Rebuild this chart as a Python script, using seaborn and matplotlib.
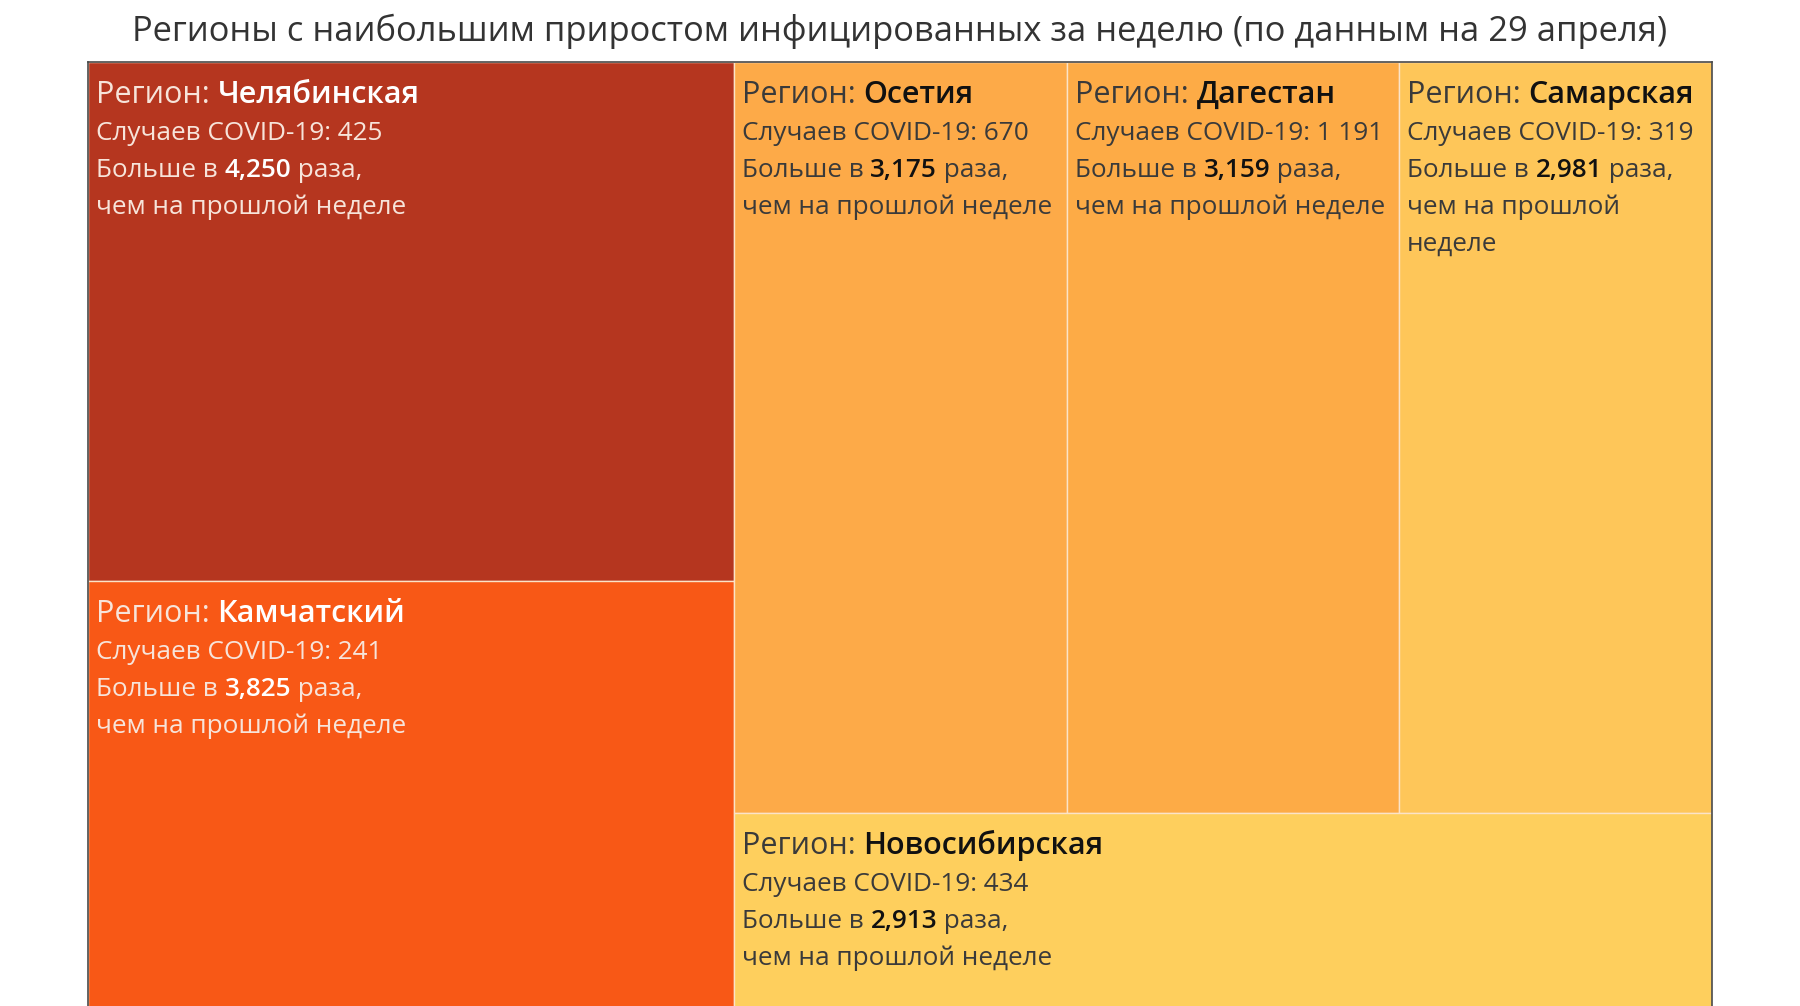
import numpy as np
import pandas as pd
import matplotlib.pyplot as plt
import seaborn as sns
from matplotlib.patches import Rectangle

# Regions with the biggest week-over-week growth (29 April)
regions = ['Челябинская', 'Камчатский', 'Осетия', 'Дагестан', 'Самарская', 'Новосибирская']
cases = ['425', '241', '670', '1 191', '319', '434']
growth = [4.250, 3.825, 3.175, 3.159, 2.981, 2.913]
growth_labels = ['4,250', '3,825', '3,175', '3,159', '2,981', '2,913']

colors = ['#B5361F', '#F85816', '#FDAA48', '#FDAB46', '#FEC659', '#FECF5D']
light_text = [True, True, False, False, False, False]

title = 'Регионы с наибольшим приростом инфицированных за неделю (по данным на 29 апреля)'

sns.set_theme(style='white')
plt.rcParams['font.family'] = ['Open Sans', 'DejaVu Sans']

W, H, DPI = 1800, 1006, 100
fig = plt.figure(figsize=(W / DPI, H / DPI), dpi=DPI)

# treemap area in pixels (the view cuts it off at the bottom)
left_px, right_px, top_px = 88, 1712, 62
full_h_px = 986
ax = fig.add_axes([left_px / W, 0, (right_px - left_px) / W, (H - top_px) / H])
ax.set_xlim(0, 1)
ax.set_ylim((H - top_px) / full_h_px, 0)
ax.set_xticks([])
ax.set_yticks([])
for s in ['top', 'left', 'right']:
    ax.spines[s].set_color('#4a4a4a')
    ax.spines[s].set_linewidth(1.2)
ax.spines['bottom'].set_visible(False)


def slice_rects(vals, x, y, w, h, horizontal):
    out = []
    tot = sum(vals)
    pos = 0.0
    for v in vals:
        f = v / tot
        if horizontal:
            out.append((x + pos * w, y, f * w, h))
        else:
            out.append((x, y + pos * h, w, f * h))
        pos += f
    return out


# slice-and-dice layout: left column of two, right part = row of three over one
total = sum(growth)
left_w = sum(growth[:2]) / total
top_h = sum(growth[2:5]) / sum(growth[2:])
rects = slice_rects(growth[:2], 0, 0, left_w, 1, False)
rects += slice_rects(growth[2:5], left_w, 0, 1 - left_w, top_h, True)
rects += [(left_w, top_h, 1 - left_w, 1 - top_h)]

for (x, y, w, h), c in zip(rects, colors):
    ax.add_patch(Rectangle((x, y), w, h, facecolor=c, edgecolor='#FBE3C8', linewidth=1.0))

fig.text(0.5, 1 - 31 / H, title, ha='center', va='center', fontsize=24.8, color='#333333')

renderer = fig.canvas.get_renderer()
pad_x = 8
first_base = 41
line_step = 37
big, small = 22, 18.8

for i, (x, y, w, h) in enumerate(rects):
    if light_text[i]:
        col, bcol = '#F7E4DA', '#FFFFFF'
    else:
        col, bcol = '#3a3a3a', '#111111'
    cell_px = w * (right_px - left_px) - pad_x - 4

    lines = [
        [('Регион: ', 'normal'), (regions[i], 'semibold')],
        [('Случаев COVID-19: ' + cases[i], 'normal')],
        [('Больше в ', 'normal'), (growth_labels[i], 'semibold'), (' раза,', 'normal')],
        [('чем на прошлой неделе', 'normal')],
    ]
    # wrap the last line if the cell is too narrow
    probe = ax.text(0, 0, lines[3][0][0], fontsize=small)
    if probe.get_window_extent(renderer).width > cell_px:
        lines[3] = [('чем на прошлой', 'normal')]
        lines.append([('неделе', 'normal')])
    probe.remove()

    for k, parts in enumerate(lines):
        fs = big if k == 0 else small
        prev = None
        for txt, wt in parts:
            c_ = bcol if wt == 'semibold' else col
            if prev is None:
                prev = ax.annotate(txt, xy=(x, y), xytext=(pad_x, -(first_base + k * line_step)),
                                   textcoords='offset pixels', ha='left', va='baseline',
                                   fontsize=fs, fontweight=wt, color=c_)
            else:
                prev = ax.annotate(txt, xy=(1, 0), xycoords=prev, ha='left', va='bottom',
                                   fontsize=fs, fontweight=wt, color=c_)

fig.savefig('out.png', dpi=DPI)
